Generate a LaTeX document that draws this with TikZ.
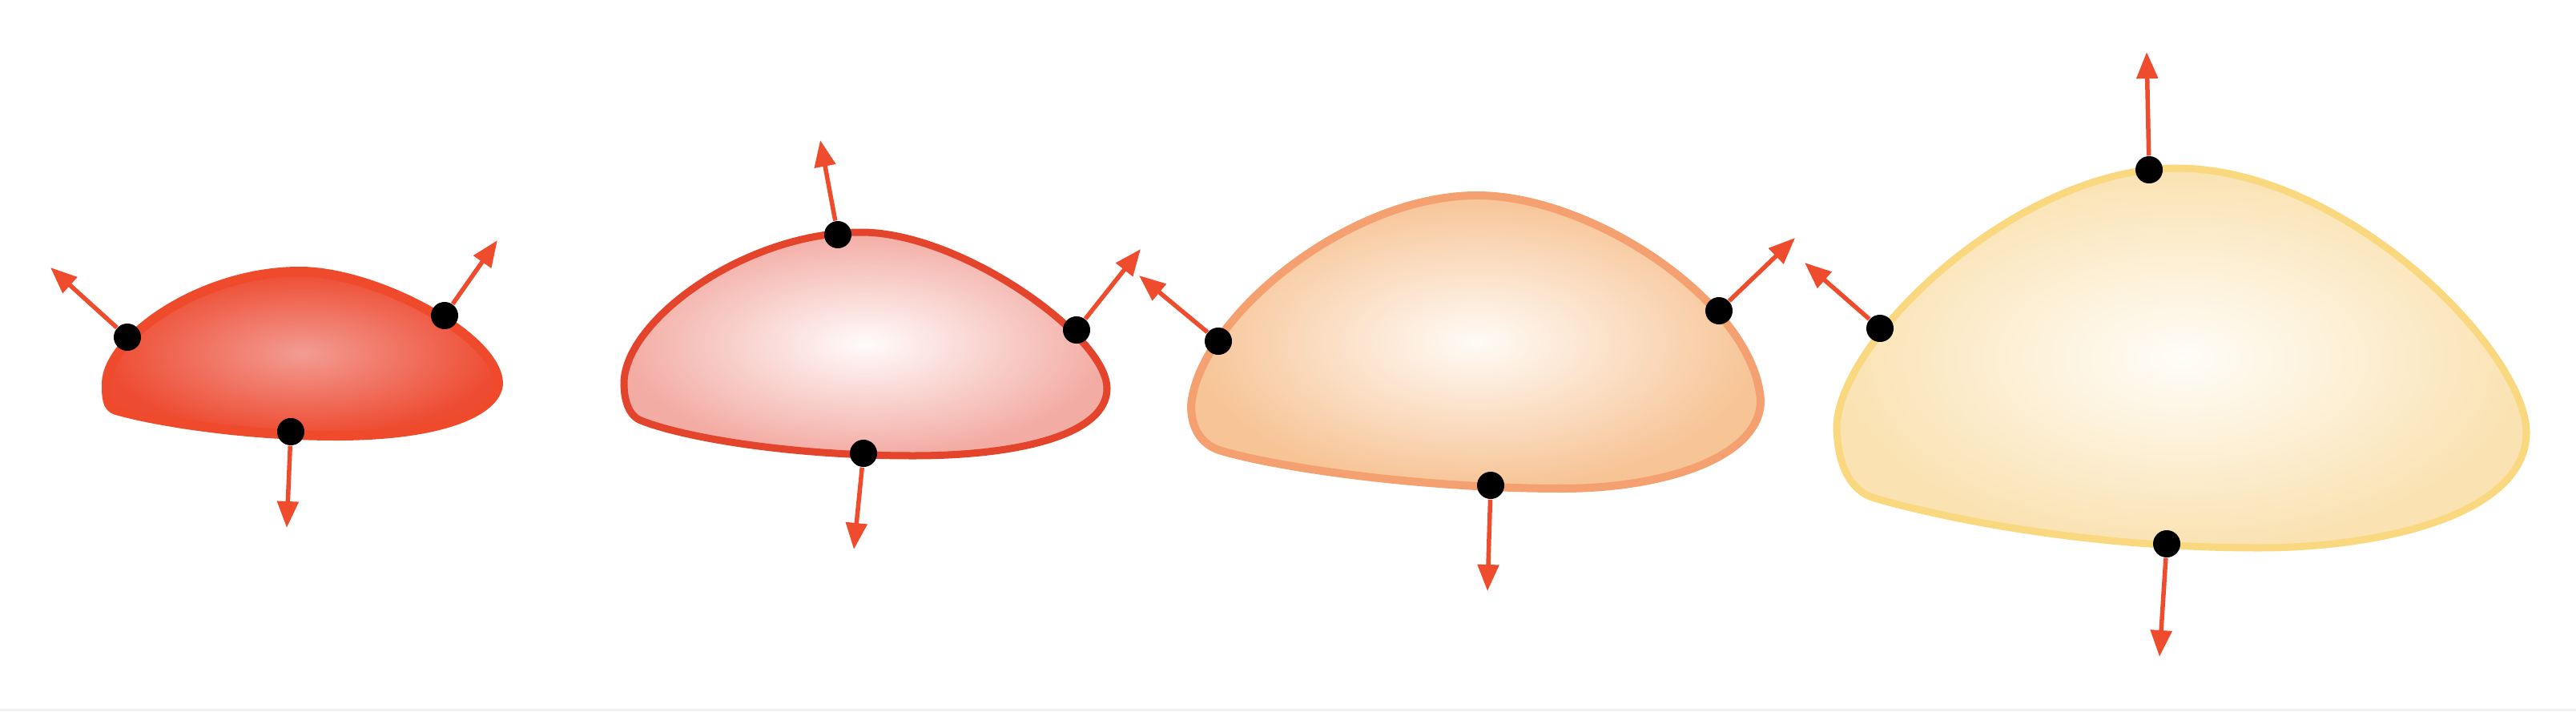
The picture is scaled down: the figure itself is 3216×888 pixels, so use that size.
\documentclass[tikz,border=0pt]{standalone}
\usetikzlibrary{arrows.meta}
\definecolor{arrowc}{RGB}{238,76,44}
\definecolor{lineA}{RGB}{238,74,43}
\definecolor{lineB}{RGB}{227,68,43}
\definecolor{lineC}{RGB}{244,160,112}
\definecolor{lineD}{RGB}{249,216,128}
\definecolor{inA}{RGB}{243,156,147}
\definecolor{outA}{RGB}{238,76,50}
\definecolor{inB}{RGB}{255,251,251}
\definecolor{outB}{RGB}{243,172,164}
\definecolor{inC}{RGB}{255,251,246}
\definecolor{outC}{RGB}{247,196,150}
\definecolor{inD}{RGB}{255,253,248}
\definecolor{outD}{RGB}{250,226,178}
\tikzset{
  dotnode/.style={circle, fill=black, inner sep=0pt, minimum size=0.34cm},
  normarrow/.style={draw=arrowc, line width=0.055cm, -{Triangle[length=0.33cm,width=0.26cm]}},
  blobline/.style={line width=#1, line join=round}
}
\begin{document}
\begin{tikzpicture}[x=0.01cm, y=-0.01cm]
\useasboundingbox (0,0) rectangle (3216,888);
\fill[gray!12] (0,885) rectangle (3216,888);

% Blob 1
\path[blobline=0.12cm, draw=lineA, inner color=inA, outer color=outA]
  (133,478) .. controls (135,422) and (250,339) .. (374,339)
  .. controls (470,339) and (620,420) .. (622,478)
  .. controls (622,510) and (560,544) .. (420,544)
  .. controls (300,544) and (190,525) .. (145,512)
  .. controls (133,508.5) and (133,495) .. cycle;
% Blob 2
\path[blobline=0.09cm, draw=lineB, inner color=inB, outer color=outB]
  (779,478) .. controls (780,400) and (930,290) .. (1075,290)
  .. controls (1200,290) and (1382,420) .. (1382,485)
  .. controls (1382,540) and (1280,569) .. (1140,569)
  .. controls (980,569) and (850,545) .. (800,525)
  .. controls (785,519) and (779,500) .. cycle;
% Blob 3
\path[blobline=0.10cm, draw=lineC, inner color=inC, outer color=outC]
  (1487,507) .. controls (1495,400) and (1680,244) .. (1844,244)
  .. controls (1990,244) and (2190,380) .. (2198,500)
  .. controls (2198,570) and (2080,610) .. (1950,610)
  .. controls (1780,610) and (1600,585) .. (1525,563)
  .. controls (1500,556) and (1487,535) .. cycle;
% Blob 4
\path[blobline=0.09cm, draw=lineD, inner color=inD, outer color=outD]
  (2293,530) .. controls (2300,420) and (2520,210) .. (2717,210)
  .. controls (2930,210) and (3154,440) .. (3154,540)
  .. controls (3154,640) and (2980,684) .. (2820,684)
  .. controls (2600,684) and (2420,645) .. (2340,622)
  .. controls (2310,613) and (2293,580) .. cycle;

% Dots
\node[dotnode] (a1) at (159,421) {};
\node[dotnode] (a2) at (555,394) {};
\node[dotnode] (a3) at (363,539) {};
\node[dotnode] (b1) at (1046,293) {};
\node[dotnode] (b2) at (1344,412) {};
\node[dotnode] (b3) at (1078,566) {};
\node[dotnode] (c1) at (1521,426) {};
\node[dotnode] (c2) at (2146,388) {};
\node[dotnode] (c3) at (1861,606) {};
\node[dotnode] (d1) at (2683,212) {};
\node[dotnode] (d2) at (2347,410) {};
\node[dotnode] (d3) at (2705,679) {};

% Arrow ends
\coordinate (ta1) at (63,334);
\coordinate (ta2) at (621,300);
\coordinate (ta3) at (358,659);
\coordinate (tb1) at (1024,175);
\coordinate (tb2) at (1424,311);
\coordinate (tb3) at (1066,686);
\coordinate (tc1) at (1422,344);
\coordinate (tc2) at (2241,297);
\coordinate (tc3) at (1857,738);
\coordinate (td1) at (2680,65);
\coordinate (td2) at (2253,328);
\coordinate (td3) at (2696,820);

\foreach \s in {a,b,c,d}{
  \foreach \i in {1,2,3}{
    \draw[normarrow] (\s\i) -- (t\s\i);
  }
}
\end{tikzpicture}
\end{document}
